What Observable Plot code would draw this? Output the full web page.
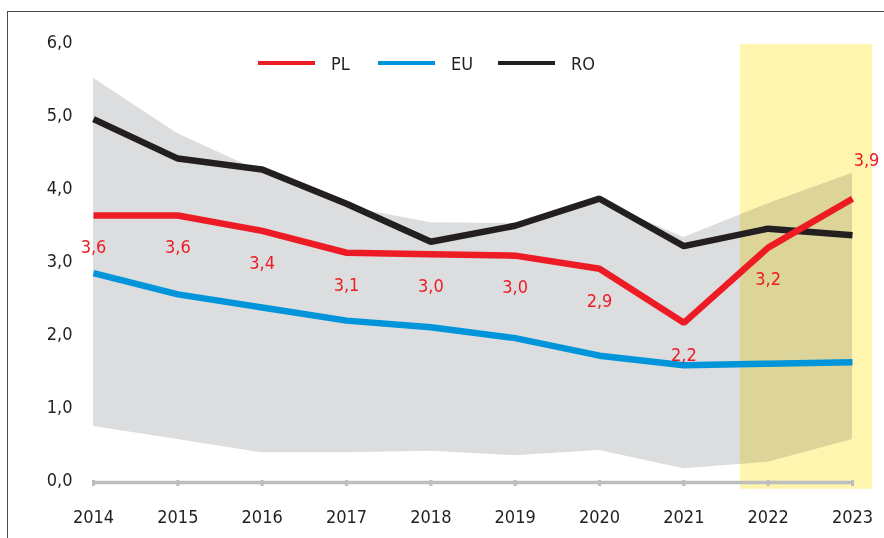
<!DOCTYPE html>
<html>
<head>
<meta charset="utf-8">
<script src="https://cdn.jsdelivr.net/npm/d3@7"></script>
<script src="https://cdn.jsdelivr.net/npm/@observablehq/plot@0.6"></script>
<style>
  html, body { margin: 0; padding: 0; background: #fff; }
  #wrap { position: relative; width: 884px; height: 538px; overflow: hidden; font-family: "Liberation Sans Narrow", "DejaVu Sans Condensed", sans-serif; }
  #frame { position: absolute; left: 7px; top: 11px; width: 1000px; height: 1000px; border: 1px solid #4a4a4a; pointer-events: none; }
  #legend { position: absolute; left: 0; top: 0; width: 884px; height: 100px; pointer-events: none; }
  .item { position: absolute; top: 52px; height: 22px; display: flex; align-items: center; font-size: 18px; color: #231f20; }
  .swatch { display: inline-block; width: 57px; height: 4px; margin-right: 16px; }
</style>
</head>
<body>
<div id="wrap">
  <div id="chart"></div>
  <div id="legend"></div>
  <div id="frame"></div>
</div>
<script>
const years = [2014, 2015, 2016, 2017, 2018, 2019, 2020, 2021, 2022, 2023];
const pl = [3.63, 3.63, 3.42, 3.12, 3.10, 3.08, 2.90, 2.16, 3.19, 3.86];
const plLabels = ["3,6", "3,6", "3,4", "3,1", "3,0", "3,0", "2,9", "2,2", "3,2", "3,9"];
const eu = [2.84, 2.55, 2.37, 2.19, 2.10, 1.95, 1.71, 1.58, 1.60, 1.62];
const ro = [4.95, 4.41, 4.26, 3.79, 3.27, 3.49, 3.86, 3.21, 3.45, 3.36];
const bandMin = [0.74, 0.56, 0.38, 0.38, 0.40, 0.34, 0.41, 0.16, 0.25, 0.56];
const bandMax = [5.51, 4.75, 4.22, 3.75, 3.53, 3.52, 3.83, 3.33, 3.79, 4.21];
const highlightFrom = 2021.67, highlightTo = 2023.24;
const highlightTop = 5.97, highlightBottom = -0.12;
const yTicks = [0, 1, 2, 3, 4, 5, 6];
const seriesNames = ["PL", "EU", "RO"];
const seriesColors = ["#ed1c24", "#0095da", "#231f20"];

const rows = years.map((y, i) => ({year: y, pl: pl[i], eu: eu[i], ro: ro[i], lo: bandMin[i], hi: bandMax[i], lab: plLabels[i]}));
const fmt = d => d.toFixed(1).replace(".", ",");
const font = '"Liberation Sans Narrow", "DejaVu Sans Condensed", sans-serif';

const chart = Plot.plot({
  width: 884,
  height: 538,
  marginLeft: 93,
  marginRight: 32,
  marginTop: 42,
  marginBottom: 58,
  style: {fontFamily: font, fontSize: "18px", color: "#231f20", background: "transparent", overflow: "visible"},
  x: {type: "linear", domain: [2014, 2023]},
  y: {domain: [0, 6]},
  marks: [
    Plot.areaY(rows, {x: "year", y1: "lo", y2: "hi", fill: "#dcdddf"}),
    Plot.rect([{x1: highlightFrom, x2: highlightTo, y1: highlightBottom, y2: highlightTop}],
      {x1: "x1", x2: "x2", y1: "y1", y2: "y2", fill: "#fff5ae", mixBlendMode: "multiply"}),
    Plot.ruleY([0], {stroke: "#bcbec0", strokeWidth: 3.5, dy: 2}),
    Plot.axisX({ticks: years, tickFormat: d => String(d), tickSize: 6, tickPadding: 24, stroke: "#bcbec0", strokeWidth: 3, fill: "#231f20", label: null, fontSize: 18}),
    Plot.axisY({ticks: yTicks, tickFormat: fmt, tickSize: 0, tickPadding: 21, fill: "#231f20", label: null, fontSize: 18}),
    Plot.line(rows, {x: "year", y: "eu", stroke: seriesColors[1], strokeWidth: 6.5, strokeLinejoin: "miter", strokeLinecap: "butt"}),
    Plot.line(rows, {x: "year", y: "ro", stroke: seriesColors[2], strokeWidth: 6.5, strokeLinejoin: "miter", strokeLinecap: "butt"}),
    Plot.line(rows, {x: "year", y: "pl", stroke: seriesColors[0], strokeWidth: 6.5, strokeLinejoin: "miter", strokeLinecap: "butt"}),
    Plot.text(rows.slice(0, -1), {x: "year", y: "pl", text: "lab", fill: "#ed1c24", dy: 32, fontSize: 18}),
    Plot.text(rows.slice(-1), {x: "year", y: "pl", text: "lab", fill: "#ed1c24", dy: -38, dx: 14, fontSize: 18})
  ]
});
document.getElementById("chart").appendChild(chart);

const legend = document.getElementById("legend");
const legendLeft = [258, 378, 498];
seriesNames.forEach((name, i) => {
  const item = document.createElement("div");
  item.className = "item";
  item.style.left = legendLeft[i] + "px";
  const sw = document.createElement("span");
  sw.className = "swatch";
  sw.style.background = seriesColors[i];
  item.appendChild(sw);
  item.appendChild(document.createTextNode(name));
  legend.appendChild(item);
});
</script>
</body>
</html>
